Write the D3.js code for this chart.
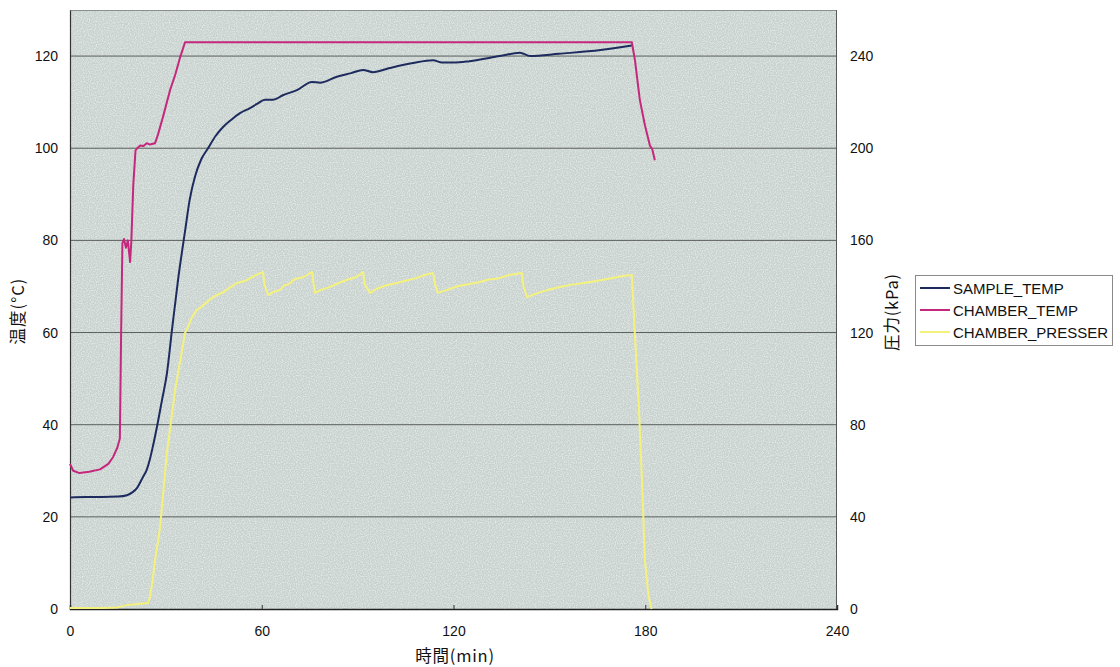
<!DOCTYPE html>
<html>
<head>
<meta charset="utf-8">
<script src="https://cdn.jsdelivr.net/npm/d3@7/dist/d3.min.js"></script>
<style>
  html, body { margin: 0; padding: 0; background: #ffffff; }
  svg { display: block; }
  text { font-family: "Liberation Sans", Arial, "Noto Sans CJK JP", sans-serif; fill: #111; }
</style>
</head>
<body>
<svg id="chart" width="1120" height="667"></svg>
<script>
// ---------------- DATA ----------------
const xTicks = [0, 60, 120, 180, 240];
const yLeftTicks = [0, 20, 40, 60, 80, 100, 120];
const yRightTicks = [0, 40, 80, 120, 160, 200, 240];

const seriesNames = ["SAMPLE_TEMP", "CHAMBER_TEMP", "CHAMBER_PRESSER"];

// SAMPLE_TEMP (°C)
const sampleTime = [0, 5, 10, 15, 17.8, 19.5, 21, 22.8, 24, 25, 26, 27.2, 28.8, 30.3, 31.9, 33.8, 36, 37.5, 39.1, 41, 43.2, 45.5, 47.9, 50.5, 53.2, 56.3, 58.5, 61, 63.5, 66.6, 71, 75.7, 78.2, 83.5, 88, 91.7, 94.8, 100, 107.3, 113.6, 116.4, 120, 125, 134.5, 140.8, 144, 153, 166, 175.8];
const sampleTemp = [24.2, 24.3, 24.3, 24.4, 24.7, 25.3, 26.3, 28.6, 30.2, 32.5, 35.5, 39.5, 45.4, 51, 60.5, 71.4, 82, 89, 93.8, 97.5, 100, 102.6, 104.6, 106.2, 107.6, 108.7, 109.6, 110.5, 110.5, 111.5, 112.6, 114.4, 114.2, 115.5, 116.3, 117, 116.5, 117.4, 118.5, 119.1, 118.6, 118.6, 118.9, 120, 120.7, 120, 120.5, 121.3, 122.3];

// CHAMBER_TEMP (°C)
const chamberTime = [0, 1, 3, 6, 9.4, 12, 13.5, 14.8, 15.6, 16.0, 16.4, 16.9, 17.5, 18.1, 18.8, 19.2, 19.8, 20.5, 21.0, 22.0, 23.0, 24.0, 25.0, 26.6, 27.5, 29.1, 31.3, 32.9, 34.4, 36.0, 60, 90, 120, 150, 175.8, 176.8, 178.3, 179.9, 181.5, 182.2, 183];
const chamberTemp = [31.5, 30, 29.5, 29.8, 30.3, 31.5, 33, 35, 37, 60, 79.4, 80.3, 78.4, 80, 75.3, 80, 92, 99.5, 100, 100.6, 100.5, 101.1, 100.8, 101.1, 102.9, 106.8, 112.6, 115.9, 119.6, 123, 123, 123, 123, 123, 123, 119, 110.5, 105, 100.5, 99.8, 97.4];

// CHAMBER_PRESSER (kPa)
const pressTime = [0, 10, 14.7, 18, 20, 22, 24.4, 25, 25.8, 26.5, 28.2, 30.3, 32.9, 34.5, 36, 36.9, 38.2, 39.7, 41, 42.9, 44.8, 46, 48, 50, 52.2, 55, 57.5, 60.4, 60.8, 62, 63.5, 65.7, 67, 68.5, 69.9, 71, 73, 75.8, 76.2, 76.7, 78.5, 81.4, 84, 87, 89.5, 91.7, 92.2, 93.9, 96, 99, 102.3, 105, 108, 111, 113.6, 114.2, 115.1, 118, 121, 124.5, 128.3, 131, 134, 137.5, 141.4, 141.9, 143, 146, 149.5, 153.3, 157, 161, 165, 169, 173, 175.8, 177, 178, 179, 179.9, 181, 182];
const pressKPa = [0.4, 0.4, 0.6, 1.8, 2.0, 2.3, 2.6, 5, 12, 20, 35.6, 67.7, 95, 108, 119.8, 122.4, 126.7, 129.8, 131, 133.3, 135.4, 136.3, 137.5, 139.5, 141.5, 142.5, 144.5, 146.3, 141, 136.3, 137.5, 138.5, 140.5, 141, 142.8, 143.5, 144, 146.3, 141, 137.2, 138.5, 139.8, 141.5, 143, 144, 146.3, 141, 137.2, 139, 140.5, 141.5, 142.5, 143.5, 145, 145.8, 141, 137.2, 138.5, 140, 141, 141.9, 143, 143.5, 145, 145.8, 140, 135.4, 137, 138.5, 139.8, 140.8, 141.5, 142.5, 143.5, 144.5, 145, 113, 88, 55, 21, 6, 0];

// ---------------- LAYOUT ----------------
const svg = d3.select("#chart");
const L = 70, R = 837, T = 10, B = 609;

const x = d3.scaleLinear().domain([0, 240]).range([L, R]);
const yL = d3.scaleLinear().domain([0, 130]).range([B, T]);
const yR = d3.scaleLinear().domain([0, 260]).range([B, T]);

const colors = { SAMPLE_TEMP: "#1d2b5e", CHAMBER_TEMP: "#c4287c", CHAMBER_PRESSER: "#f4f27c" };

// speckle filter for the plot background
const defs = svg.append("defs");
const f = defs.append("filter").attr("id", "speckle").attr("x", 0).attr("y", 0).attr("width", "100%").attr("height", "100%");
f.append("feTurbulence").attr("type", "fractalNoise").attr("baseFrequency", 0.85).attr("numOctaves", 1).attr("seed", 3).attr("result", "n");
f.append("feColorMatrix").attr("in", "n").attr("type", "matrix")
  .attr("values", "0 0 0 0 1  0 0 0 0 1  0 0 0 0 1  0 0 0 -2.4 1.45")
  .attr("result", "m");
f.append("feComposite").attr("in", "m").attr("in2", "SourceGraphic").attr("operator", "in");

svg.append("rect").attr("x", L).attr("y", T).attr("width", R - L).attr("height", B - T).attr("fill", "#c8d2ce");
svg.append("rect").attr("x", L).attr("y", T).attr("width", R - L).attr("height", B - T).attr("fill", "#ffffff").attr("opacity", 0.55).attr("filter", "url(#speckle)");

// gridlines
svg.append("g").selectAll("line").data(yLeftTicks.filter(d => d > 0)).join("line")
  .attr("x1", L).attr("x2", R).attr("y1", d => yL(d)).attr("y2", d => yL(d))
  .attr("stroke", "#5a5f5c").attr("stroke-width", 1);

// border top/right
svg.append("line").attr("x1", L).attr("x2", R).attr("y1", T + 0.5).attr("y2", T + 0.5).attr("stroke", "#8a918d");
svg.append("line").attr("x1", R - 0.5).attr("x2", R - 0.5).attr("y1", T).attr("y2", B).attr("stroke", "#555a57");

// axes
const gx = svg.append("g").attr("transform", `translate(0,${B})`)
  .call(d3.axisBottom(x).tickValues(xTicks).tickSize(-4).tickPadding(17).tickFormat(d3.format("d")));
const gyl = svg.append("g").attr("transform", `translate(${L},0)`)
  .call(d3.axisLeft(yL).tickValues(yLeftTicks).tickSize(0).tickPadding(12).tickFormat(d3.format("d")));
const gyr = svg.append("g").attr("transform", `translate(${R},0)`)
  .call(d3.axisRight(yR).tickValues(yRightTicks).tickSize(0).tickPadding(13).tickFormat(d3.format("d")));
[gx, gyl, gyr].forEach(g => {
  g.selectAll("text").attr("font-size", 14).attr("fill", "#111")
    .style("font-family", '"Liberation Sans", Arial, sans-serif');
  g.selectAll(".tick line").attr("stroke", "#333");
});
gx.select(".domain").attr("stroke", "#222").attr("stroke-width", 1.5);
gyl.select(".domain").attr("stroke", "#333").attr("stroke-width", 1.2);
gyr.select(".domain").remove();

// lines
const mk = (ts, vs) => ts.map((t, i) => [t, vs[i]]);
const lineL = d3.line().x(d => x(d[0])).y(d => yL(d[1])).curve(d3.curveMonotoneX);
const lineLlin = d3.line().x(d => x(d[0])).y(d => yL(d[1]));
const lineR = d3.line().x(d => x(d[0])).y(d => yR(d[1]));

svg.append("path").datum(mk(pressTime, pressKPa)).attr("d", lineR)
  .attr("fill", "none").attr("stroke", colors.CHAMBER_PRESSER).attr("stroke-width", 2).attr("stroke-linejoin", "round");
svg.append("path").datum(mk(sampleTime, sampleTemp)).attr("d", lineL)
  .attr("fill", "none").attr("stroke", colors.SAMPLE_TEMP).attr("stroke-width", 2);
svg.append("path").datum(mk(chamberTime, chamberTemp)).attr("d", lineLlin)
  .attr("fill", "none").attr("stroke", colors.CHAMBER_TEMP).attr("stroke-width", 2).attr("stroke-linejoin", "round");

// axis titles
const cjk = '"Noto Sans CJK JP", sans-serif';
svg.append("text").attr("transform", `translate(24,311) rotate(-90)`).attr("text-anchor", "middle")
  .attr("font-size", 16.5).attr("letter-spacing", 1).style("font-family", cjk).text("温度(°C)");
svg.append("text").attr("transform", `translate(898,312) rotate(-90)`).attr("text-anchor", "middle")
  .attr("font-size", 16.5).attr("letter-spacing", 0.8).style("font-family", cjk).text("圧力(kPa)");
svg.append("text").attr("x", 455).attr("y", 662).attr("text-anchor", "middle")
  .attr("font-size", 16.5).attr("letter-spacing", 0.8).style("font-family", cjk).text("時間(min)");

// legend
const lg = svg.append("g");
lg.append("rect").attr("x", 915.5).attr("y", 275.5).attr("width", 197).attr("height", 70)
  .attr("fill", "#fff").attr("stroke", "#8a8a8a");
seriesNames.forEach((n, i) => {
  const yy = 288 + i * 22;
  lg.append("line").attr("x1", 920).attr("x2", 950).attr("y1", yy).attr("y2", yy)
    .attr("stroke", colors[n]).attr("stroke-width", 2);
  lg.append("text").attr("x", 953).attr("y", yy + 5.5).attr("font-size", 15)
    .style("font-family", '"Liberation Sans", Arial, sans-serif').text(n);
});
</script>
</body>
</html>
